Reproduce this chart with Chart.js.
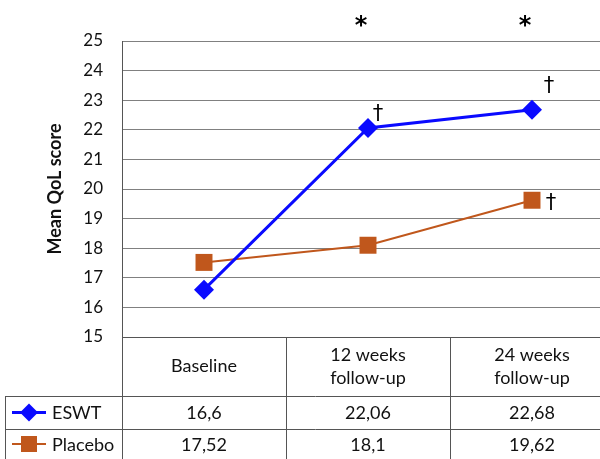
<!doctype html>
<html lang="en">
<head>
<meta charset="utf-8">
<script src="https://cdn.jsdelivr.net/npm/chart.js@4.4.0/dist/chart.umd.min.js"></script>
<title>Mean QoL score</title>
<style>
  html, body { margin: 0; padding: 0; background: #fff; overflow: hidden; }
  #qol { display: block; }
</style>
</head>
<body>
<canvas id="qol" width="626" height="459"></canvas>
<script>
// time points (header row of the table)
const periods = [['Baseline'], ['12 weeks', 'follow-up'], ['24 weeks', 'follow-up']];
// group means
const eswt = [16.6, 22.06, 22.68];
const placebo = [17.52, 18.1, 19.62];
const groups = ['ESWT', 'Placebo'];
// y axis range
const yMin = 15, yMax = 25, yStep = 1;

const FONT = 'Lato, "Open Sans", sans-serif';
const BLUE = '#0a0aff';
const ORANGE = '#c0571c';
const LINE = '#555';

function fmt(v) { return String(v).replace('.', ','); }

// legend swatch like the dataset style
function swatch(ctx, x, y, color, shape) {
  ctx.save();
  ctx.strokeStyle = color; ctx.fillStyle = color;
  ctx.lineWidth = shape === 'diamond' ? 3 : 2;
  ctx.beginPath(); ctx.moveTo(x - 17, y); ctx.lineTo(x + 17, y); ctx.stroke();
  ctx.beginPath();
  if (shape === 'diamond') {
    ctx.moveTo(x, y - 9); ctx.lineTo(x + 9, y); ctx.lineTo(x, y + 9); ctx.lineTo(x - 9, y);
    ctx.closePath();
  } else {
    ctx.rect(x - 8, y - 8, 16, 16);
  }
  ctx.fill();
  ctx.restore();
}

// data table under the plot, columns follow the category scale
const tablePlugin = {
  id: 'dataTable',
  afterDraw(chart) {
    const ctx = chart.ctx, xs = chart.scales.x, a = chart.chartArea;
    const colW = xs.getPixelForValue(1) - xs.getPixelForValue(0);
    const top = a.bottom, head = top + 59, r1 = head + 33, bottom = chart.height;
    ctx.save();
    ctx.strokeStyle = LINE; ctx.lineWidth = 1;
    const h = (y, x0) => { ctx.beginPath(); ctx.moveTo(x0, y + 0.5); ctx.lineTo(chart.width, y + 0.5); ctx.stroke(); };
    const v = (x, y0, y1) => { ctx.beginPath(); ctx.moveTo(x + 0.5, y0); ctx.lineTo(x + 0.5, y1); ctx.stroke(); };
    h(top, a.left); h(head, 5); h(r1, 5);
    v(a.left, top, bottom); v(5, head, bottom);
    for (let i = 1; i < periods.length; i++) {
      v(Math.round(xs.getPixelForValue(i) - colW / 2), top, bottom);
    }
    ctx.fillStyle = '#111';
    ctx.font = '18px ' + FONT;
    ctx.textAlign = 'center'; ctx.textBaseline = 'middle';
    periods.forEach((lines, i) => {
      const cx = xs.getPixelForValue(i);
      const mid = (top + head) / 2;
      lines.forEach((t, k) => {
        ctx.fillText(t, cx, mid + (k - (lines.length - 1) / 2) * 23);
      });
      ctx.fillText(fmt(eswt[i]), cx, (head + r1) / 2 + 1);
      ctx.fillText(fmt(placebo[i]), cx, (r1 + bottom) / 2 + 1);
    });
    ctx.textAlign = 'left';
    ctx.fillText(groups[0], 52, (head + r1) / 2 + 1);
    ctx.fillText(groups[1], 52, (r1 + bottom) / 2 + 1);
    swatch(ctx, 29, (head + r1) / 2, BLUE, 'diamond');
    swatch(ctx, 29, (r1 + bottom) / 2, ORANGE, 'square');
    ctx.restore();
  }
};

// significance marks: * between groups, † versus baseline
const marksPlugin = {
  id: 'sigMarks',
  afterDatasetsDraw(chart) {
    const ctx = chart.ctx, xs = chart.scales.x;
    const e = chart.getDatasetMeta(0).data, p = chart.getDatasetMeta(1).data;
    ctx.save();
    ctx.fillStyle = '#000';
    ctx.textAlign = 'center'; ctx.textBaseline = 'middle';
    ctx.font = 'bold 24px "DejaVu Sans", sans-serif';
    [1, 2].forEach(i => ctx.fillText('*', xs.getPixelForValue(i) - 7, 27));
    ctx.font = '21px "DejaVu Sans", sans-serif';
    ctx.fillText('\u2020', e[1].x + 10, e[1].y - 13);
    ctx.fillText('\u2020', e[2].x + 17, e[2].y - 23);
    ctx.fillText('\u2020', p[2].x + 19, p[2].y + 3);
    ctx.restore();
  }
};

new Chart(document.getElementById('qol'), {
  type: 'line',
  data: {
    labels: periods,
    datasets: [{
      label: groups[0],
      data: eswt,
      borderColor: BLUE, backgroundColor: BLUE,
      borderWidth: 3,
      pointStyle: 'rectRot', pointRadius: 10, pointHoverRadius: 10,
      pointBorderWidth: 0
    }, {
      label: groups[1],
      data: placebo,
      borderColor: ORANGE, backgroundColor: ORANGE,
      borderWidth: 2,
      pointStyle: 'rect', pointRadius: 12, pointHoverRadius: 12,
      pointBorderWidth: 0
    }]
  },
  options: {
    responsive: false,
    animation: false,
    layout: { padding: { top: 41, bottom: 122, left: 0, right: 0 } },
    plugins: { legend: { display: false }, tooltip: { enabled: false } },
    scales: {
      x: { type: 'category', offset: true, display: false },
      y: {
        min: yMin, max: yMax,
        afterFit(scale) { scale.width = 122; },
        ticks: {
          stepSize: yStep, padding: 19, color: '#111',
          font: { family: FONT, size: 17 }
        },
        grid: { color: '#808080', lineWidth: 1, drawTicks: false },
        border: { display: true, color: LINE, width: 1 },
        title: {
          display: true, text: 'Mean QoL score', color: '#111',
          font: { family: FONT, size: 18, weight: 'bold' },
          padding: { top: 44, bottom: 0 }
        }
      }
    }
  },
  plugins: [tablePlugin, marksPlugin]
});
</script>
</body>
</html>
